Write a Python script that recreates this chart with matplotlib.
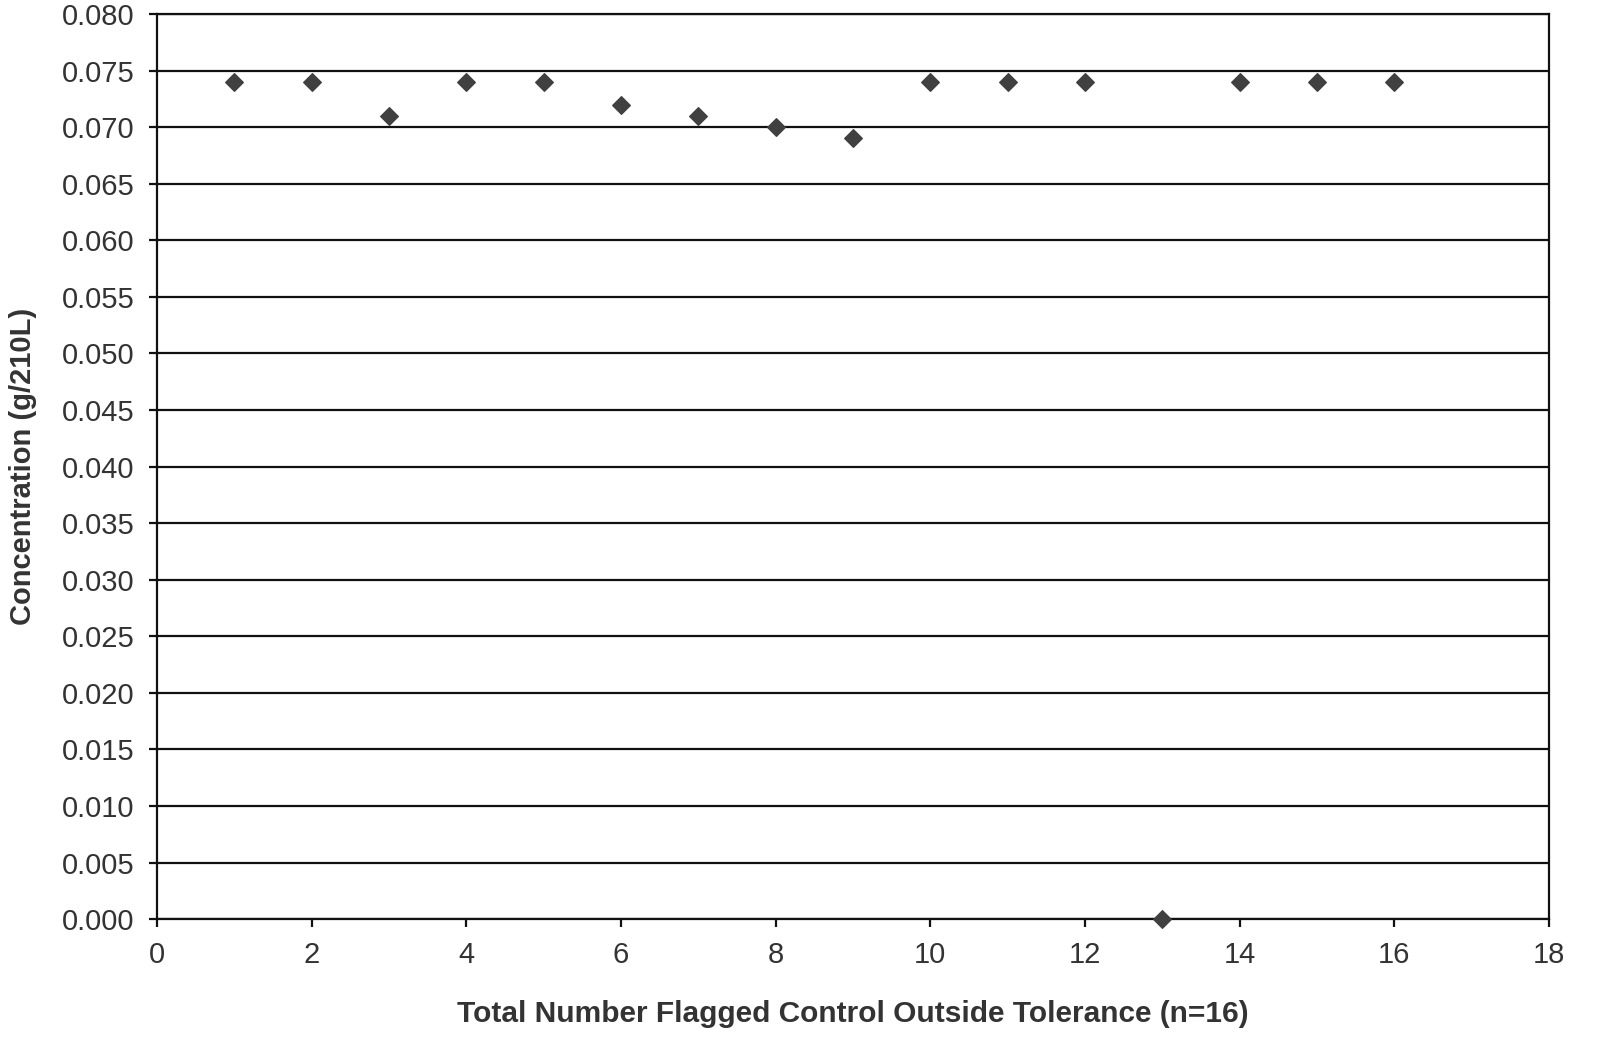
import numpy as np
import matplotlib
matplotlib.use('Agg')
import matplotlib.pyplot as plt

plt.rcParams['font.family'] = ['Liberation Sans', 'DejaVu Sans']

# data
flag_n = [1, 2, 3, 4, 5, 6, 7, 8, 9, 10, 11, 12, 13, 14, 15, 16]
conc = [0.074, 0.074, 0.071, 0.074, 0.074, 0.072, 0.071, 0.070, 0.069,
        0.074, 0.074, 0.074, 0.000, 0.074, 0.074, 0.074]
yticks = np.arange(0, 0.0801, 0.005)
xticks = np.arange(0, 19, 2)

fig = plt.figure(figsize=(16.06, 10.54), dpi=100)
ax = fig.add_axes([0.0978, 0.128, 0.8667, 0.8587])

ax.scatter(flag_n, conc, marker='D', s=80, color='#404040', zorder=3, clip_on=False)

ax.set_xlim(0, 18)
ax.set_ylim(0, 0.080)
ax.set_xticks(xticks)
ax.set_yticks(yticks)
ax.set_yticklabels(['%.3f' % v for v in yticks])
ax.yaxis.grid(True, color='#111111', linewidth=1.6)
ax.set_axisbelow(True)
for s in ax.spines.values():
    s.set_linewidth(1.6)
    s.set_color('#111111')
ax.tick_params(axis='both', labelsize=21, width=1.6, length=6, color='#111111',
               labelcolor='#333333')
ax.tick_params(axis='y', pad=10)
ax.tick_params(axis='x', pad=10)

ax.set_xlabel('Total Number Flagged Control Outside Tolerance (n=16)', fontsize=21.5,
              fontweight='bold', color='#333333', labelpad=22)
ax.set_ylabel('Concentration (g/210L)', fontsize=21, fontweight='bold', color='#333333', labelpad=18)

fig.savefig('out.png', dpi=100)
